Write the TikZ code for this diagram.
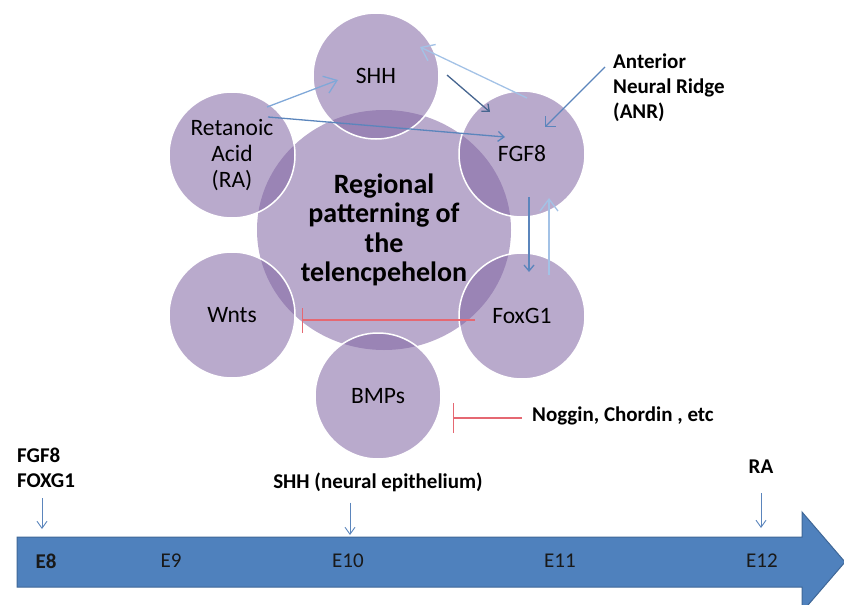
\documentclass[tikz,border=0pt]{standalone}
\usepackage{fontspec}
\setmainfont{Carlito}
\usetikzlibrary{arrows.meta,shapes.geometric}
\definecolor{petal}{HTML}{8064A2}
\definecolor{tlblue}{HTML}{4F81BD}
\definecolor{tledge}{HTML}{3F6797}
\definecolor{arrmid}{HTML}{5B85BC}
\definecolor{arrsoft}{HTML}{80A8D8}
\definecolor{arrlight}{HTML}{A3C2E6}
\definecolor{arrdark}{HTML}{46658F}
\definecolor{inhib}{RGB}{229,104,114}
\newcommand{\satsize}{126pt}
\newcommand{\lblfont}{\fontsize{21}{25}\selectfont}

\begin{document}
\begin{tikzpicture}[x=1pt,y=-1pt,
    sat/.style={circle, fill=petal, fill opacity=0.55, text opacity=1, draw=white,
        line width=1.5pt, minimum size=\satsize, inner sep=0pt, align=center,
        font=\fontsize{23.5}{26}\selectfont},
    core/.style={ellipse, fill=petal, fill opacity=0.55, text opacity=1,
        minimum width=254pt, minimum height=240pt, inner sep=0pt, align=center,
        font=\bfseries\fontsize{28}{29.5}\selectfont},
    lbl/.style={font=\bfseries\lblfont, inner sep=2pt},
    day/.style={font=\lblfont, text=black!90, inner sep=0pt},
    lnk/.style={line width=1.3pt, -{Straight Barb[length=6pt,width=10pt]}},
    lnkbig/.style={line width=1.3pt, -{Straight Barb[length=12pt,width=18pt]}},
    tick/.style={arrmid, line width=0.9pt, -{Straight Barb[length=7pt,width=10pt]}},
    block/.style={inhib, line width=1.4pt}]
    \useasboundingbox (0,0) rectangle (844,605);
    \clip (0,0) rectangle (844,605);
    %\draw[help lines] (0,0) grid (844,605);

    \node[core] (telen) at (384,230) {Regional\\patterning of\\the\\telencpehelon};

    \node[sat] (shh) at (376,76) {SHH};
    \node[sat] (ra) at (232,155) {Retanoic\\Acid\\(RA)};
    \node[sat] (fgf) at (522,154) {FGF8};
    \node[sat] (wnt) at (232,315) {Wnts};
    \node[sat] (foxg) at (522,316) {FoxG1};
    \node[sat] (bmp) at (378,396) {BMPs};

    \node[lbl, align=left, anchor=west] (anr) at (611,88) {Anterior\\Neural Ridge\\(ANR)};
    \node[lbl, anchor=west] (nog) at (530,416) {Noggin, Chordin , etc};

    \draw[lnkbig, arrsoft] ([shift={(35,-48)}]ra.center) -- ([shift={(-38,4)}]shh.center);
    \draw[lnk, arrmid] ([shift={(36,-38)}]ra.center) -- ([shift={(-17,-17)}]fgf.center);
    \draw[lnk, arrdark] ([shift={(71,-1)}]shh.center) -- ([shift={(-32,-42)}]fgf.center);
    \draw[lnkbig, arrlight] ([shift={(5,-56)}]fgf.center) -- ([shift={(44,-29)}]shh.center);
    \draw[lnk, arrmid, -{Straight Barb[length=7pt,width=14pt]}] ([shift={(-6,-21)}]anr.west) -- ([shift={(23,-27)}]fgf.center);
    \draw[lnk, arrmid] ([shift={(7,43)}]fgf.center) -- ([shift={(7,-44)}]foxg.center);
    \draw[lnkbig, arrlight] ([shift={(27,-41)}]foxg.center) -- ([shift={(27,44)}]fgf.center);

    \draw[block, -{Bar[width=25pt]}] ([shift={(-47,4)}]foxg.center) -- ([shift={(70,5)}]wnt.center);
    \draw[block, -{Bar[width=30pt]}] ([shift={(-8,2)}]nog.west) -- ([shift={(75,22)}]bmp.center);

    % timeline
    \filldraw[fill=tlblue, draw=tledge, line width=1pt] (17,537) -- (802,537) -- (802,512)
        -- (845,562) -- (802,612) -- (802,587) -- (17,587) -- cycle;
    \node[day, font=\bfseries\lblfont] (e8) at (46,561) {E8};
    \node[day] (e9) at (171,561) {E9};
    \node[day] (e10) at (348,561) {E10};
    \node[day] (e11) at (560,561) {E11};
    \node[day] (e12) at (762,561) {E12};

    \node[lbl, align=left, anchor=west] (early) at (15,468) {FGF8\\FOXG1};
    \node[lbl] (shhlbl) at (378,482) {SHH (neural epithelium)};
    \node[lbl] (ralbl) at (761,467) {RA};

    \coordinate (t8) at (42,529);
    \coordinate (t10) at (350,535);
    \coordinate (t12) at (761,528);
    \draw[tick, shorten <=8pt] (early.south -| t8) -- (t8);
    \draw[tick, shorten <=9pt] (shhlbl.south -| t10) -- (t10);
    \draw[tick, shorten <=17pt] (ralbl.south -| t12) -- (t12);
\end{tikzpicture}
\end{document}
